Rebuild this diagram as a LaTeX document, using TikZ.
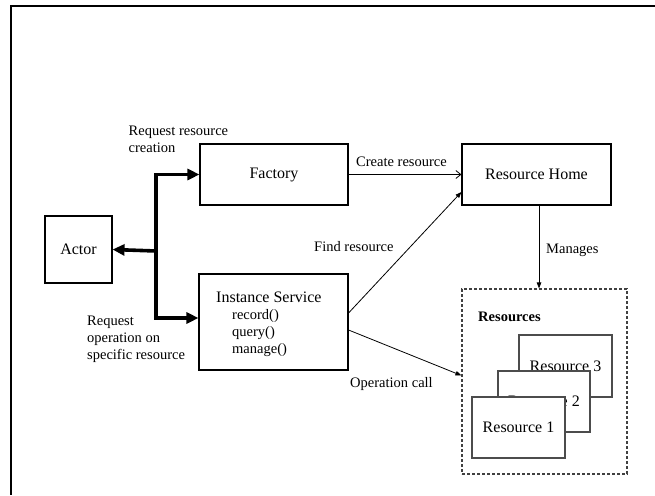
\documentclass[tikz,border=0pt]{standalone}
\usepackage{fontspec}
\setmainfont{Liberation Serif}
\usetikzlibrary{arrows.meta}
\begin{document}
\begin{tikzpicture}[x=1pt,y=-1pt,
  box/.style={draw, line width=1.1pt, fill=white, inner sep=0pt,
    font=\fontsize{16}{19}\selectfont},
  stacked/.style={box, draw=black!70},
  lbl/.style={anchor=base west, inner sep=0pt, font=\fontsize{14.5}{17}\selectfont},
  bus/.style={line width=3.6pt, -{Triangle[length=12pt,width=11pt]}},
  call/.style={line width=0.8pt, -{Triangle[length=6pt,width=4.5pt]}},
  create/.style={line width=0.8pt, -{Straight Barb[length=5pt,width=8pt]}},
]
\useasboundingbox (0,0) rectangle (655,495);

% page frame (top and left edges only)
\draw[line width=2pt] (655,6.5) -- (10.7,6.5) -- (10.7,495);

% main components
\node[box, minimum width=148pt, minimum height=61pt] (factory) at (274,174.5) {Factory};
\node[box, minimum width=149pt, minimum height=61pt] (home) at (536.5,174.5) {Resource Home};
\node[box, minimum width=67pt, minimum height=67pt] (actor) at (78.5,249.5) {Actor};
\node[box, minimum width=149pt, minimum height=96pt] (inst) at (273.5,322) {};
\node[anchor=base west, inner sep=0pt, font=\fontsize{16}{19}\selectfont] (instname) at (216,302) {Instance Service};
\node[lbl] (mrecord) at (232,319.5) {record()};
\node[lbl] (mquery) at (232,336.5) {query()};
\node[lbl] (mmanage) at (232,353.5) {manage()};

% resource container with stacked resources
\node[draw=black!75, dashed, dash pattern=on 3pt off 2pt, line width=1.1pt,
  minimum width=165pt, minimum height=185pt, inner sep=0pt] (resbox) at (544.5,381.5) {};
\node[anchor=base west, inner sep=0pt, font=\fontsize{14.5}{17}\bfseries\selectfont] (restitle) at (478,321) {Resources};
\node[stacked, minimum width=93pt, minimum height=62pt] (res3) at (565.5,366) {Resource 3};
\node[stacked, minimum width=92pt, minimum height=61pt] (res2) at (544,401.5) {Resource 2};
\node[stacked, minimum width=93pt, minimum height=61pt] (res1) at (518.5,427.5) {Resource 1};

% actor requests
\coordinate (bus) at (156,251);
\draw[bus] (bus) -- (actor.east);
\draw[bus] (bus) |- (factory.west);
\draw[bus] (bus) |- ([yshift=4pt]inst.west);

% interactions
\draw[create] (factory.east) -- (home.west);
\draw[call] ([yshift=9pt]inst.east) -- ([yshift=-17.5pt]home.west);
\draw[call] ([yshift=-8pt]inst.east) -- ([yshift=6pt]resbox.west);
\draw[call] ([xshift=2.5pt]home.south) -- ([xshift=2.5pt]home.south |- resbox.north);

% labels
\node[lbl] (lcreate1) at (128.5,135) {Request resource};
\node[lbl] (lcreate2) at (128.5,152) {creation};
\node[lbl] (lop1) at (87,325) {Request};
\node[lbl] (lop2) at (87,342) {operation on};
\node[lbl] (lop3) at (87,359) {specific resource};
\node[lbl] (lcr) at (356,166) {Create resource};
\node[lbl] (lfind) at (314,251) {Find resource};
\node[lbl] (lman) at (546,253) {Manages};
\node[lbl] (lcall) at (350,387) {Operation call};
\end{tikzpicture}
\end{document}
